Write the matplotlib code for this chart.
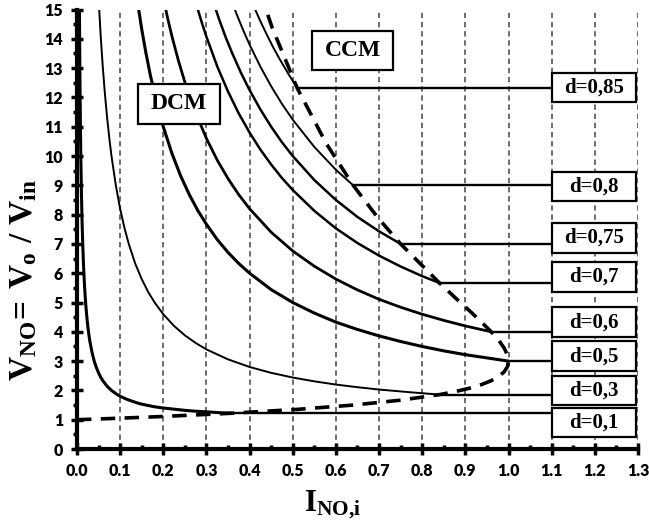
import matplotlib
matplotlib.use("Agg")
import matplotlib.pyplot as plt
from matplotlib.ticker import MultipleLocator, FormatStrFormatter

plt.rcParams['mathtext.fontset'] = 'custom'
plt.rcParams['mathtext.bf'] = 'Liberation Serif:bold'
plt.rcParams['mathtext.rm'] = 'Liberation Serif:bold'

# DCM curves (I_NO,i , V_NO), ending at the boundary
curves = {
    "0,1": ([0.005, 0.0055, 0.006, 0.0065, 0.007, 0.008, 0.009, 0.01, 0.011, 0.012, 0.0135, 0.015,
             0.0175, 0.02, 0.0225, 0.025, 0.0275, 0.03, 0.035, 0.04, 0.045, 0.05, 0.055, 0.06,
             0.07, 0.08, 0.09, 0.1, 0.115, 0.13, 0.145, 0.16, 0.18, 0.2, 0.225, 0.25, 0.275,
             0.3, 0.33, 0.36],
            [17.0, 15.55, 14.33, 13.31, 12.43, 11.0, 9.89, 9.0, 8.27, 7.67, 6.93, 6.33,
             5.57, 5.0, 4.56, 4.2, 3.91, 3.67, 3.29, 3.0, 2.78, 2.6, 2.45, 2.33,
             2.14, 2.0, 1.89, 1.8, 1.70, 1.62, 1.55, 1.5, 1.44, 1.4, 1.36, 1.32, 1.29,
             1.27, 1.24, 1.22]),
    "0,3": ([0.045, 0.048, 0.05, 0.055, 0.06, 0.065, 0.07, 0.075, 0.08, 0.09, 0.1, 0.11, 0.12,
             0.135, 0.15, 0.165, 0.18, 0.2, 0.225, 0.25, 0.275, 0.3, 0.35, 0.4, 0.45, 0.5,
             0.55, 0.6, 0.65, 0.7, 0.77, 0.84],
            [17.0, 16.0, 15.4, 14.09, 13.0, 12.08, 11.29, 10.6, 10.0, 9.0, 8.2, 7.55, 7.0,
             6.33, 5.8, 5.36, 5.0, 4.6, 4.2, 3.88, 3.62, 3.4, 3.06, 2.8, 2.6, 2.44,
             2.31, 2.2, 2.11, 2.03, 1.94, 1.857]),
    "0,5": ([0.13, 0.14, 0.15, 0.16, 0.17, 0.185, 0.2, 0.22, 0.24, 0.26, 0.28, 0.3, 0.325,
             0.35, 0.375, 0.4, 0.45, 0.5, 0.55, 0.6, 0.65, 0.7, 0.75, 0.8, 0.85, 0.9, 0.95, 1.0],
            [16.38, 15.29, 14.33, 13.5, 12.76, 11.81, 11.0, 10.09, 9.33, 8.69, 8.14, 7.67, 7.15,
             6.71, 6.33, 6.0, 5.44, 5.0, 4.64, 4.33, 4.08, 3.86, 3.67, 3.5, 3.35, 3.22, 3.11, 3.0]),
    "0,6": ([0.19, 0.2, 0.21, 0.22, 0.235, 0.25, 0.275, 0.3, 0.325, 0.35, 0.375, 0.4, 0.45,
             0.5, 0.55, 0.6, 0.65, 0.7, 0.75, 0.8, 0.85, 0.9, 0.96],
            [16.16, 15.4, 14.71, 14.09, 13.26, 12.52, 11.47, 10.6, 9.86, 9.23, 8.68, 8.2, 7.4,
             6.76, 6.24, 5.8, 5.43, 5.11, 4.84, 4.6, 4.39, 4.2, 4.0]),
    "0,7": ([0.26, 0.275, 0.29, 0.3, 0.325, 0.35, 0.375, 0.4, 0.425, 0.45, 0.475, 0.5, 0.55,
             0.6, 0.65, 0.7, 0.75, 0.8, 0.84],
            [16.08, 15.25, 14.52, 14.07, 13.06, 12.2, 11.45, 10.8, 10.22, 9.71, 9.25, 8.84, 8.13,
             7.53, 7.03, 6.6, 6.23, 5.9, 5.667]),
    "0,75": ([0.3, 0.315, 0.33, 0.345, 0.36, 0.38, 0.4, 0.425, 0.45, 0.475, 0.5, 0.55, 0.6,
              0.65, 0.7, 0.75],
             [16.0, 15.29, 14.64, 14.04, 13.5, 12.84, 12.25, 11.59, 11.0, 10.47, 10.0, 9.18, 8.5,
              7.92, 7.43, 7.0]),
    "0,8": ([0.34, 0.355, 0.37, 0.385, 0.4, 0.425, 0.45, 0.475, 0.5, 0.55, 0.6, 0.64],
            [16.06, 15.42, 14.84, 14.3, 13.8, 13.05, 12.38, 11.78, 11.24, 10.31, 9.53, 9.0]),
    "0,85": ([0.38, 0.395, 0.41, 0.425, 0.44, 0.455, 0.47, 0.49, 0.51],
             [16.21, 15.63, 15.1, 14.6, 14.14, 13.7, 13.3, 12.8, 12.33]),
}
widths = {"0,1": 2.2, "0,3": 1.4, "0,5": 2.2, "0,6": 2.0, "0,7": 1.8,
          "0,75": 1.8, "0,8": 1.4, "0,85": 1.4}
# label box centres (V_NO) on the right
box_y = {"0,1": 0.9, "0,3": 2.0, "0,5": 3.17, "0,6": 4.33, "0,7": 5.87,
         "0,75": 7.2, "0,8": 8.95, "0,85": 12.34}

# DCM/CCM boundary
bnd_x = [0.0, 0.0494, 0.0975, 0.19, 0.36, 0.51, 0.64, 0.75, 0.84, 0.8775, 0.91, 0.9375,
         0.96, 0.9775, 0.99, 0.9975, 1.0, 0.9975, 0.99, 0.9775, 0.96, 0.9375, 0.91,
         0.8775, 0.84, 0.75, 0.6975, 0.64, 0.5775, 0.51, 0.4524, 0.4224]
bnd_y = [1.0, 1.025, 1.051, 1.105, 1.222, 1.353, 1.5, 1.667, 1.857, 1.963, 2.077, 2.2,
         2.333, 2.478, 2.636, 2.81, 3.0, 3.21, 3.444, 3.71, 4.0, 4.33, 4.714,
         5.15, 5.667, 7.0, 7.89, 9.0, 10.43, 12.33, 14.38, 15.67]

x_end = 1.1

fig = plt.figure(figsize=(6.49, 5.2), dpi=100)
ax = fig.add_axes([0.1186, 0.1365, 0.983 - 0.1186, 0.9817 - 0.1365])

for xv in [i / 10 for i in range(1, 14)]:
    ax.axvline(xv, color='#444444', lw=1.1, ls=(0, (3.5, 2.5)), zorder=1)

for key, (xs, ys) in curves.items():
    ax.plot(xs, ys, color='black', lw=widths[key], zorder=3, solid_capstyle='butt')
    ax.plot([xs[-1], x_end], [ys[-1], ys[-1]], color='black', lw=1.7, zorder=3)
    ax.text(1.1975, box_y[key], "d=" + key, ha='center', va='center',
            family='Liberation Serif', weight='bold', fontsize=15, zorder=6)
    ax.add_patch(plt.Rectangle((1.1, box_y[key] - 0.5), 0.195, 1.0, fc='white',
                               ec='black', lw=1.6, zorder=5, clip_on=False))

ax.plot(bnd_x, bnd_y, color='black', lw=2.6, ls=(0, (4, 2.6)), zorder=4)

ax.add_patch(plt.Rectangle((0.141, 11.1), 0.19, 1.36, fc='white', ec='black', lw=1.6, zorder=5))
ax.text(0.236, 11.78, "DCM", ha='center', va='center', family='Liberation Serif',
        weight='bold', fontsize=17, zorder=6)
ax.add_patch(plt.Rectangle((0.545, 12.94), 0.187, 1.33, fc='white', ec='black', lw=1.6, zorder=5))
ax.text(0.6385, 13.6, "CCM", ha='center', va='center', family='Liberation Serif',
        weight='bold', fontsize=17, zorder=6)

ax.set_xlim(0, 1.3)
ax.set_ylim(0, 15)
ax.spines['top'].set_visible(False)
ax.spines['right'].set_visible(False)
ax.spines['left'].set_linewidth(3)
ax.spines['bottom'].set_linewidth(3)
ax.xaxis.set_major_locator(MultipleLocator(0.1))
ax.xaxis.set_minor_locator(MultipleLocator(0.05))
ax.yaxis.set_major_locator(MultipleLocator(1))
ax.yaxis.set_minor_locator(MultipleLocator(0.5))
ax.xaxis.set_major_formatter(FormatStrFormatter('%.1f'))
ax.tick_params(which='major', direction='inout', length=8, width=2.5, pad=6)
ax.tick_params(which='minor', direction='in', length=3, width=2.5)
ax.tick_params(axis='y', which='minor', direction='out')
for lab in ax.get_xticklabels() + ax.get_yticklabels():
    lab.set_fontfamily('Lato')
    lab.set_fontweight('heavy')
    lab.set_fontsize(11.5)

ax.set_xlabel(r"$\mathbf{I_{NO{,}i}}$", fontsize=22)
ax.xaxis.set_label_coords(0.455, -0.089)
ax.set_ylabel(r"$\mathbf{V_{NO}\!=\,V_o\;/\;V_{in}}$", fontsize=24)
ax.yaxis.set_label_coords(-0.068, 0.385)

fig.savefig("out.png", dpi=100)
